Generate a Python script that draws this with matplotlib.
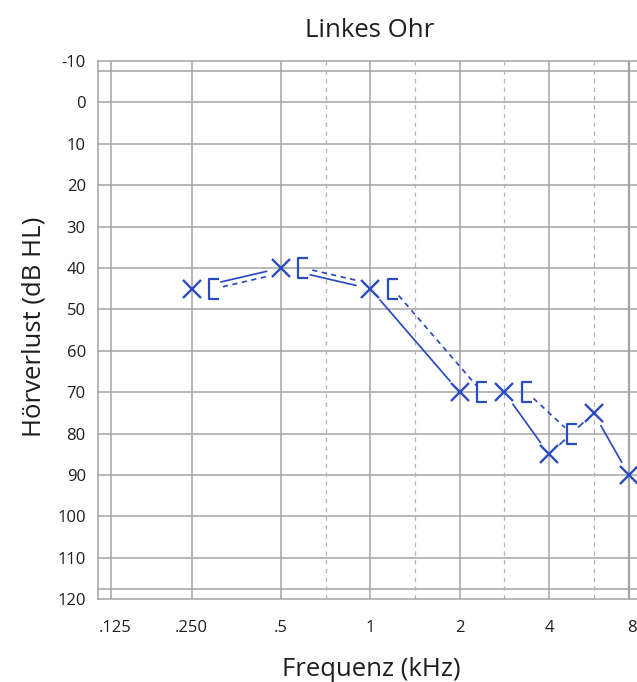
import numpy as np
import matplotlib
matplotlib.use("Agg")
import matplotlib.pyplot as plt
from matplotlib.path import Path
from matplotlib.transforms import offset_copy

# ---------------- data ----------------
title = "Linkes Ohr"
x_label = "Frequenz (kHz)"
y_label = "Hörverlust (dB HL)"

air_freqs = [250, 500, 1000, 2000, 3000, 4000, 6000, 8000]
air_db = [45, 40, 45, 70, 70, 85, 75, 90]
bone_freqs = [250, 500, 1000, 2000, 3000, 4000]
bone_db = [45, 40, 45, 70, 70, 80]

octave_freqs = [125, 250, 500, 1000, 2000, 4000, 8000]
octave_labels = [".125", ".250", ".5", "1", "2", "4", "8"]
mid_freqs = [750, 1500, 3000, 6000]
db_ticks = list(range(-10, 121, 10))

# ---------------- layout (audiogram column positions) ----------------
POS = {125: 0.095, 250: 1, 500: 2, 750: 2.5, 1000: 3, 1500: 3.5,
       2000: 4, 3000: 4.5, 4000: 5, 6000: 5.5, 8000: 5.895}
LABEL_POS = {125: 0.14, 250: 1, 500: 2, 1000: 3, 2000: 4, 4000: 5, 8000: 5.93}

BLUE = "#2a4cc0"
GRID = "#a4a4a4"
GRID_DASH = "#b4b4b4"
TXT = "#1e1e1e"

plt.rcParams["font.family"] = ["Open Sans", "DejaVu Sans"]

W, H = 637, 682
fig = plt.figure(figsize=(W / 100, H / 100), dpi=100)
left_px, right_px, top_px, bot_px = 98.3, 641.4, 61.0, 599.3
ax = fig.add_axes([left_px / W, 1 - bot_px / H,
                   (right_px - left_px) / W, (bot_px - top_px) / H])
ax.set_xlim(-0.044, 6.034)
ax.set_ylim(120, -10)

for s in ax.spines.values():
    s.set_color(GRID)
    s.set_linewidth(1.1)

# grid
for d in db_ticks[1:-1]:
    ax.axhline(d, color=GRID, lw=1.1, zorder=1)
for d in (-7.5, 117.5):
    ax.axhline(d, color=GRID, lw=1.1, zorder=1)
for f in octave_freqs:
    ax.axvline(POS[f], color=GRID, lw=1.1, zorder=1)
ax.axvline(POS[8000], color=GRID, lw=1.6, zorder=1)
for f in mid_freqs:
    ax.axvline(POS[f], color=GRID_DASH, lw=0.9, ls=(0, (3.5, 3.5)), zorder=1)

# ticks
ax.set_yticks(db_ticks)
ax.set_yticklabels([str(d) for d in db_ticks])
ax.set_xticks([LABEL_POS[f] for f in octave_freqs])
ax.set_xticklabels(octave_labels)
ax.tick_params(axis="both", length=0, labelsize=12, colors=TXT)
ax.tick_params(axis="y", pad=9)
ax.tick_params(axis="x", pad=15)

# markers
air_x = [POS[f] for f in air_freqs]
bone_x = [POS[f] for f in bone_freqs]
BR_OFF = 22.5  # px to the right of the column
br_trans = offset_copy(ax.transData, fig=fig, x=BR_OFF, y=0, units="dots")
bracket = Path([(0.55, 1), (-0.55, 1), (-0.55, -1), (0.55, -1)],
               [Path.MOVETO, Path.LINETO, Path.LINETO, Path.LINETO])

ax.plot(air_x, air_db, ls="none", marker="x", ms=13.5, mew=1.7,
        color=BLUE, zorder=4, clip_on=False)
ax.plot(bone_x, bone_db, ls="none", marker=bracket, ms=14.2, mew=1.6,
        mfc="none", color=BLUE, zorder=4, transform=br_trans, clip_on=False)

# connecting lines, with gaps around the symbols
air_pts = ax.transData.transform(np.column_stack([air_x, air_db]))
bone_pts = br_trans.transform(np.column_stack([bone_x, bone_db]))
obstacles = [(p, 14.0) for p in air_pts] + [(p, 9.0) for p in bone_pts]


def pieces(p0, p1, obs, min_len=4.0):
    d = p1 - p0
    L = float(np.hypot(*d))
    u = d / L
    iv = []
    for c, r in obs:
        v = c - p0
        t = float(v @ u)
        perp = abs(v[0] * u[1] - v[1] * u[0])
        if perp < r:
            h = np.sqrt(r * r - perp * perp)
            iv.append((t - h, t + h))
    iv.sort()
    out, cur = [], 0.0
    for a, b in iv:
        if a > cur:
            out.append((cur, min(a, L)))
        cur = max(cur, b)
    if cur < L:
        out.append((cur, L))
    return [(p0 + u * a, p0 + u * b) for a, b in out if b - a >= min_len]


inv = ax.transData.inverted()
for pts, style in ((air_pts, "-"), (bone_pts, (0, (3.0, 2.6)))):
    for i in range(len(pts) - 1):
        for a, b in pieces(pts[i], pts[i + 1], obstacles):
            da, db_ = inv.transform([a, b])
            ax.plot([da[0], db_[0]], [da[1], db_[1]], color=BLUE, lw=1.25,
                    ls=style, zorder=3, solid_capstyle="butt",
                    dash_capstyle="butt", clip_on=False)

# titles
fig.text(370 / W, 1 - 37 / H, title, ha="center", va="baseline",
         fontsize=18.5, color=TXT)
fig.text(371 / W, 1 - 676 / H, x_label, ha="center", va="baseline",
         fontsize=18.5, color=TXT)
fig.text(34 / W, 1 - 327 / H, y_label, ha="center", va="center",
         rotation=90, fontsize=18.5, color=TXT)

fig.savefig("out.png", dpi=100)
